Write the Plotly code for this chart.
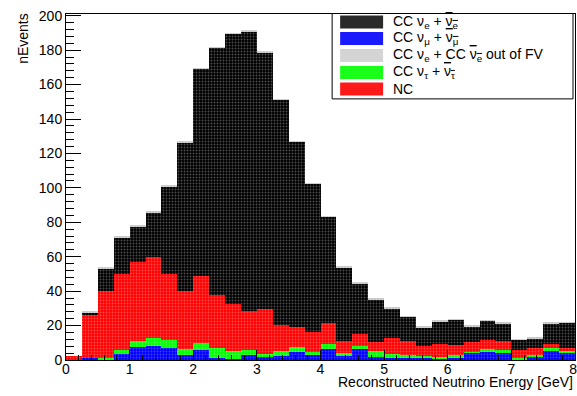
import numpy as np
import plotly.graph_objects as go

# Reconstructed energy bins (GeV), 0.25 GeV wide, from 0 to 8
bin_width = 0.25
bin_centers = list(np.arange(0.125, 8.0, bin_width))

# Per-component event counts in each bin (stack order bottom -> top)
cc_numu = [0.0, 1.3, 0.0, 3.3, 7.3, 8.1, 7.0, 2.9, 5.6, 1.4, 0.8, 2.9, 1.5, 2.1, 4.8, 2.9,
           6.5, 2.1, 6.6, 1.9, 1.4, 1.0, 1.0, 0.4, 1.4, 4.3, 4.8, 4.3, 0.4, 1.9, 5.8, 4.4]
cc_nutau = [0.0, 0.0, 1.2, 2.3, 3.7, 4.5, 4.4, 3.3, 4.4, 5.4, 4.4, 2.9, 1.9, 3.1, 2.8, 1.7,
            2.6, 1.8, 1.5, 3.5, 1.9, 1.7, 1.3, 1.5, 1.5, 0.5, 1.6, 1.3, 0.8, 1.0, 1.0, 0.8]
nc = [2.1, 24.7, 39.1, 44.6, 46.1, 47.4, 38.4, 34.1, 39.0, 31.2, 27.4, 22.7, 26.1, 15.4, 11.7, 11.6,
      12.5, 7.2, 7.1, 5.0, 9.5, 8.3, 5.9, 7.3, 5.8, 5.5, 5.1, 5.2, 4.5, 3.9, 2.4, 2.0]
cc_nue = [0.0, 1.8, 13.0, 21.1, 20.7, 25.8, 51.2, 86.2, 120.1, 143.3, 156.8, 162.6, 149.3, 130.7, 107.5, 86.4,
          61.8, 42.9, 29.4, 25.0, 17.4, 14.3, 10.8, 13.4, 14.9, 9.3, 11.3, 10.6, 6.1, 5.9, 12.2, 14.6]
cc_nue_outfv = [0.0, 0.2, 0.2, 0.2, 0.2, 0.2, 0.2, 0.2, 0.2, 0.2, 0.2, 0.2, 0.2, 0.2, 0.2, 0.2,
                0.2, 0.2, 0.2, 0.2, 0.2, 0.2, 0.2, 0.2, 0.2, 0.2, 0.2, 0.2, 0.2, 0.2, 0.2, 0.2]

x_ticks = [0, 1, 2, 3, 4, 5, 6, 7, 8]
x_tick_labels = ['0', '1', '2', '3', '4', '5', '6', '7', '8&nbsp;']
y_ticks = [0, 20, 40, 60, 80, 100, 120, 140, 160, 180, 200]

legend_labels = [
    'CC ν<sub>e</sub> + <span style="text-decoration:overline">ν<sub>e</sub></span>',
    'CC ν<sub>μ</sub> + <span style="text-decoration:overline">ν<sub>μ</sub></span>',
    'CC ν<sub>e</sub> + CC <span style="text-decoration:overline">ν<sub>e</sub></span> out of FV',
    'CC ν<sub>τ</sub> + <span style="text-decoration:overline">ν<sub>τ</sub></span>',
    'NC',
]
legend_colors = ['#2a2a2a', '#1a1aff', '#d4d4d4', '#1aff1a', '#ff1a1a']

# stack definitions: (values, base colour, dot colour)
stack = [
    (cc_numu, '#0000ff', '#7f7fff'),
    (cc_nutau, '#00ff00', '#99ff99'),
    (nc, '#ff0000', '#ff9a9a'),
    (cc_nue, '#000000', '#9a9a9a'),
    (cc_nue_outfv, '#c8c8c8', '#e8e8e8'),
]

fig = go.Figure()
for vals, col, dot in stack:
    fig.add_trace(go.Bar(
        x=bin_centers, y=vals, width=bin_width,
        marker=dict(color=col, line=dict(width=0),
                    pattern=dict(shape='.', bgcolor=col, fgcolor=dot, size=3, solidity=0.3)),
        showlegend=False, hoverinfo='skip'))

W, H = 577, 396
PL, PR, PT, PB = 65.7, 575, 14, 360.5   # plot frame in page pixels
L, T = PL, PT
R = W - PR
B = H - PB
pw, ph = W - L - R, H - T - B


def px(xp):
    return (xp - L) / pw


def py(yp):
    return (H - B - yp) / ph


font_main = 'Liberation Sans, Arial, Helvetica, sans-serif'
FS = 14

fig.update_layout(
    width=W, height=H,
    margin=dict(l=L, r=R, t=T, b=B, autoexpand=False),
    barmode='stack', bargap=0,
    paper_bgcolor='white', plot_bgcolor='white',
    font=dict(family=font_main, size=FS, color='black'),
    xaxis=dict(range=[0, 8], tickvals=x_ticks, ticktext=x_tick_labels, ticks='inside', ticklen=10,
               tickcolor='black',
               showgrid=False, zeroline=False, showline=True, linecolor='black', linewidth=1,
               mirror=True, tickfont=dict(size=FS), automargin=False,
               ticklabeloverflow='allow', ticklabelstandoff=-4,
               minor=dict(dtick=0.2, ticks='inside', ticklen=5, tickcolor='black', showgrid=False)),
    yaxis=dict(range=[0, 201], tickvals=y_ticks, ticks='inside', ticklen=15, tickcolor='black',
               showgrid=False, zeroline=False, showline=True, linecolor='black', linewidth=1,
               mirror=True, tickfont=dict(size=FS), automargin=False,
               ticklabeloverflow='allow',
               minor=dict(dtick=4, ticks='inside', ticklen=7.5, tickcolor='black', showgrid=False)),
)

annotations = [
    dict(text='nEvents', textangle=-90, xref='paper', yref='paper', x=px(22), y=py(11),
         xanchor='center', yanchor='top', showarrow=False, font=dict(size=FS)),
    dict(text='Reconstructed Neutrino Energy [GeV]', xref='paper', yref='paper', x=px(574.5), y=py(383),
         xanchor='right', yanchor='middle', showarrow=False, font=dict(size=FS)),
]
shapes = [
    dict(type='rect', xref='paper', yref='paper', x0=px(332), x1=px(573), y0=py(99), y1=py(13.5),
         fillcolor='white', line=dict(color='black', width=1), layer='above'),
]
row_y = [22, 38.5, 55.5, 72.5, 89]
for lab, col, yc in zip(legend_labels, legend_colors, row_y):
    shapes.append(dict(type='rect', xref='paper', yref='paper', x0=px(340), x1=px(383),
                       y0=py(yc + 6.5), y1=py(yc - 6.5), fillcolor=col, line=dict(width=0),
                       layer='above'))
    annotations.append(dict(text=lab, xref='paper', yref='paper', x=px(391), y=py(yc),
                            xanchor='left', yanchor='middle', showarrow=False,
                            font=dict(size=FS)))
fig.update_layout(annotations=annotations, shapes=shapes)

# remove the browser's default page margin so the figure fills the window exactly
fig.write_html('out.html', config={'displayModeBar': False},
               post_script="document.body.style.margin='0';document.body.style.overflow='hidden';")
